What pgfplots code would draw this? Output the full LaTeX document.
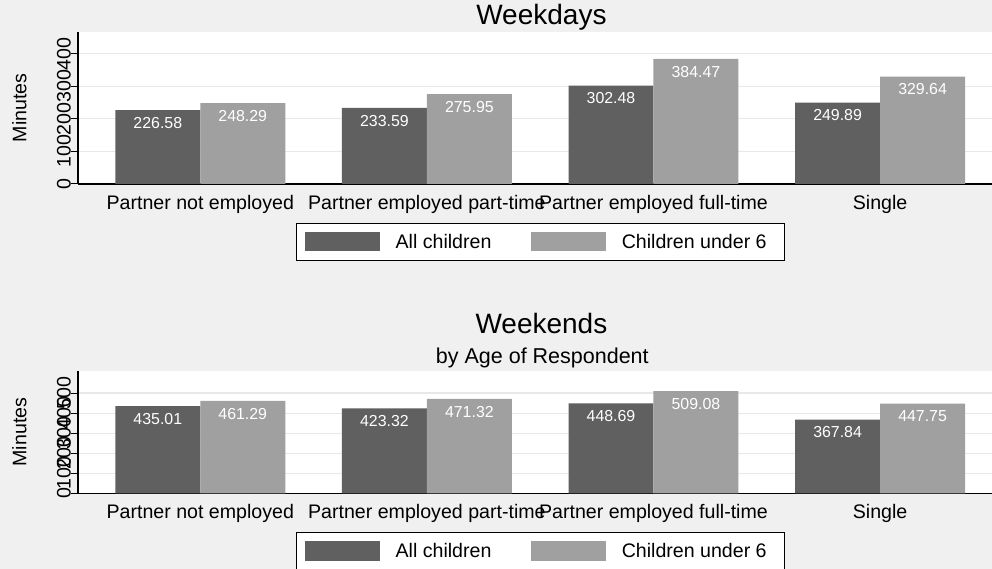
\documentclass[border=0pt]{standalone}
\usepackage{fontspec}
\setmainfont{Liberation Sans}
\usepackage{pgfplots}
\pgfplotsset{compat=1.18}
\definecolor{bg}{HTML}{F0F0F0}
\definecolor{barA}{HTML}{606060}
\definecolor{barB}{HTML}{A0A0A0}
\definecolor{gridc}{HTML}{E8E8E8}

\newcommand\fsmain{\fontsize{19.6}{23.5}\selectfont}
\newcommand\fstitle{\fontsize{28}{33}\selectfont}
\newcommand\fssub{\fontsize{21.5}{26}\selectfont}
\newcommand\fsval{\fontsize{15.9}{19}\selectfont}

% bars sit at category -/+ 0.1875 (two bars of width 0.375 per group)
\pgfplotsset{
  panel/.style={
    scale only axis,
    width=914pt,
    xmin=-0.5397, xmax=3.494,
    ymin=0,
    clip=false,
    axis background/.style={fill=white},
    axis x line*=bottom, axis y line*=left,
    axis line style={line width=1.2pt, black},
    xtick={0,1,2,3},
    xticklabels={Partner not employed, Partner employed part-time, Partner employed full-time, Single},
    xtick style={draw=none},
    xticklabel style={font=\fsmain, inner sep=0pt, yshift=-4pt},
    ytick style={line width=1pt, black},
    tick align=outside,
    major tick length=7pt,
    yticklabel style={font=\fsmain, rotate=90, anchor=south, inner sep=0pt},
    ymajorgrids,
    grid style={gridc, line width=1.2pt},
    ylabel={Minutes},
    every axis y label/.style={at={(axis description cs:-0.0561,0.5)}, rotate=90, anchor=south, inner sep=0pt, font=\fsmain},
    /pgf/number format/assume math mode=true,
    bar width=0.375,
    nodes near coords={\pgfmathprintnumber[fixed,fixed zerofill,precision=2]{\pgfplotspointmeta}},
    nodes near coords style={font=\fsval, text=white, anchor=north, inner sep=0pt, yshift=-7pt},
    legend columns=2,
    legend image code/.code={\fill[##1] (0pt,-9.75pt) rectangle (75pt,9.75pt);},
    legend style={font=\fsmain, draw=black, line width=0.8pt, fill=white,
      inner xsep=8pt, inner ysep=8.4pt, anchor=north,
      nodes={inner sep=2pt, text depth=0.15em},
      /tikz/every odd column/.append style={column sep=14pt},
      /tikz/every even column/.append style={column sep=37.3pt}},
  },
}

\begin{document}
\begin{tikzpicture}
\useasboundingbox (0,0) rectangle (992pt,569pt);
\fill[bg] (0,0) rectangle (992pt,569pt);

% Weekdays
\begin{axis}[panel,
  at={(78pt,385pt)}, anchor=south west,
  height=152pt, ymax=467, ytick={0,100,...,400},
  legend style={at={(axis description cs:0.506,-0.2566)}}]
  \addplot[ybar, bar shift=0pt, fill=barA, draw=none]
    coordinates {(-0.1875,226.58) (0.8125,233.59) (1.8125,302.48) (2.8125,249.89)};
  \addplot[ybar, bar shift=0pt, fill=barB, draw=none]
    coordinates {(0.1875,248.29) (1.1875,275.95) (2.1875,384.47) (3.1875,329.64)};
  \legend{All children, Children under 6\kern7.7pt}
  \node[font=\fstitle, anchor=base, inner sep=0pt] at (axis description cs:0.507,1.046) {Weekdays};
\end{axis}

% Weekends
\begin{axis}[panel,
  at={(78pt,75.7pt)}, anchor=south west,
  height=122.3pt, ymax=610, ytick={0,100,...,500},
  legend style={at={(axis description cs:0.506,-0.3189)}}]
  \addplot[ybar, bar shift=0pt, fill=barA, draw=none]
    coordinates {(-0.1875,435.01) (0.8125,423.32) (1.8125,448.69) (2.8125,367.84)};
  \addplot[ybar, bar shift=0pt, fill=barB, draw=none]
    coordinates {(0.1875,461.29) (1.1875,471.32) (2.1875,509.08) (3.1875,447.75)};
  \legend{All children, Children under 6\kern7.7pt}
  \node[font=\fstitle, anchor=base, inner sep=0pt] at (axis description cs:0.507,1.308) {Weekends};
  \node[font=\fssub, anchor=base, inner sep=0pt] at (axis description cs:0.508,1.063) {by Age of Respondent};
\end{axis}
\end{tikzpicture}
\end{document}
